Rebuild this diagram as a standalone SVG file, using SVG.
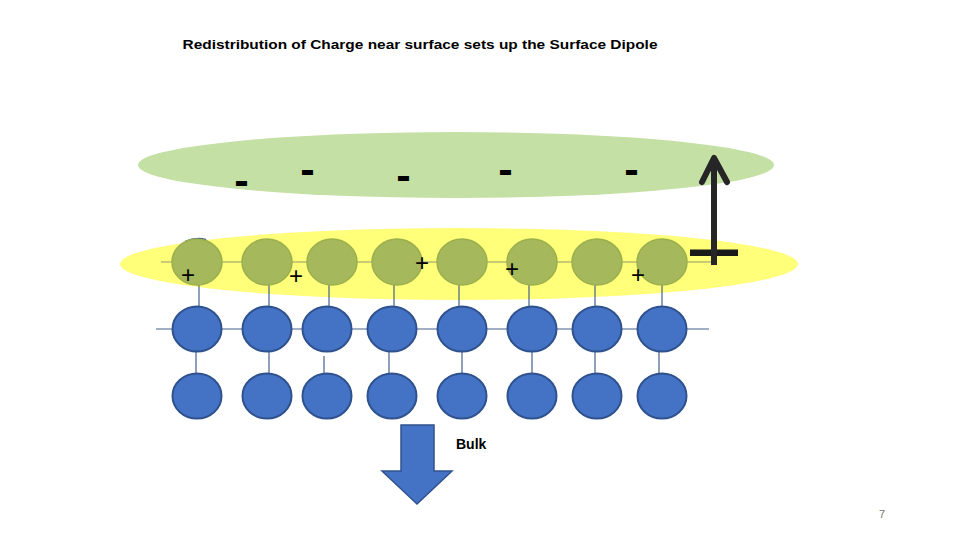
<svg xmlns="http://www.w3.org/2000/svg" width="960" height="540" viewBox="0 0 960 540">
<style>
.olive{fill:#A5B85B;stroke:#9BAF4D;stroke-width:1.5}
.blue{fill:#4472C4;stroke:#2F528F;stroke-width:2}
.ln{stroke:#46608A;stroke-width:1.2;fill:none}
.lno{stroke:#8C9A6C;stroke-width:1.2;fill:none}
.minus{font-family:"DejaVu Sans",sans-serif;font-weight:bold;font-size:36px;fill:#000;text-anchor:middle}
.plus{font-family:"Liberation Sans",Arial,sans-serif;font-size:24px;fill:#000;text-anchor:middle}
</style>
<rect width="960" height="540" fill="#FFFFFF"/>
<text x="182.5" y="49" font-family="Liberation Sans, Arial, sans-serif" font-weight="bold" font-size="13.5" textLength="475" lengthAdjust="spacingAndGlyphs" fill="#000">Redistribution of Charge near surface sets up the Surface Dipole</text>
<g id="negative-layer">
<ellipse cx="456" cy="165" rx="318" ry="33" fill="#C5E0A5"/>
</g>
<g id="positive-layer">
<ellipse cx="459" cy="264" rx="339" ry="36" fill="#FFFF79"/>
</g>
<g id="connectors">
<line class="lno" x1="161" y1="262" x2="712" y2="262"/>
<line class="ln" x1="156" y1="329" x2="709" y2="329"/>
<line class="ln" x1="199" y1="285" x2="199" y2="306"/>
<line class="ln" x1="269" y1="285" x2="269" y2="306"/>
<line class="ln" x1="329" y1="285" x2="329" y2="306"/>
<line class="ln" x1="394" y1="285" x2="394" y2="306"/>
<line class="ln" x1="459" y1="285" x2="459" y2="306"/>
<line class="ln" x1="529" y1="285" x2="529" y2="306"/>
<line class="ln" x1="595" y1="285" x2="595" y2="306"/>
<line class="ln" x1="662" y1="285" x2="662" y2="306"/>
<line class="ln" x1="196" y1="352" x2="196" y2="373"/>
<line class="ln" x1="269" y1="352" x2="269" y2="373"/>
<line class="ln" x1="324" y1="356" x2="324" y2="373"/>
<line class="ln" x1="389" y1="352" x2="389" y2="373"/>
<line class="ln" x1="462" y1="352" x2="462" y2="373"/>
<line class="ln" x1="532" y1="352" x2="532" y2="373"/>
<line class="ln" x1="595" y1="352" x2="595" y2="373"/>
<line class="ln" x1="659" y1="352" x2="659" y2="373"/>
</g>
<g id="surface-atoms">
<path d="M185,242 Q196,237 206,240" fill="none" stroke="#2F528F" stroke-width="2"/>
<ellipse class="olive" cx="197" cy="262" rx="25" ry="23"/>
<ellipse class="olive" cx="267" cy="262" rx="25" ry="23"/>
<ellipse class="olive" cx="332" cy="262" rx="25" ry="23"/>
<ellipse class="olive" cx="397" cy="262" rx="25" ry="23"/>
<ellipse class="olive" cx="462" cy="262" rx="25" ry="23"/>
<ellipse class="olive" cx="532" cy="262" rx="25" ry="23"/>
<ellipse class="olive" cx="597" cy="262" rx="25" ry="23"/>
<ellipse class="olive" cx="662" cy="262" rx="25" ry="23"/>
</g>
<g id="bulk-row-1">
<ellipse class="blue" cx="197" cy="329" rx="24.5" ry="22.5"/>
<ellipse class="blue" cx="267" cy="329" rx="24.5" ry="22.5"/>
<ellipse class="blue" cx="327" cy="329" rx="24.5" ry="22.5"/>
<ellipse class="blue" cx="392" cy="329" rx="24.5" ry="22.5"/>
<ellipse class="blue" cx="462" cy="329" rx="24.5" ry="22.5"/>
<ellipse class="blue" cx="532" cy="329" rx="24.5" ry="22.5"/>
<ellipse class="blue" cx="597" cy="329" rx="24.5" ry="22.5"/>
<ellipse class="blue" cx="662" cy="329" rx="24.5" ry="22.5"/>
</g>
<g id="bulk-row-2">
<ellipse class="blue" cx="197" cy="396" rx="24.5" ry="22.5"/>
<ellipse class="blue" cx="267" cy="396" rx="24.5" ry="22.5"/>
<ellipse class="blue" cx="327" cy="396" rx="24.5" ry="22.5"/>
<ellipse class="blue" cx="392" cy="396" rx="24.5" ry="22.5"/>
<ellipse class="blue" cx="462" cy="396" rx="24.5" ry="22.5"/>
<ellipse class="blue" cx="532" cy="396" rx="24.5" ry="22.5"/>
<ellipse class="blue" cx="597" cy="396" rx="24.5" ry="22.5"/>
<ellipse class="blue" cx="662" cy="396" rx="24.5" ry="22.5"/>
</g>
<g id="minus-charges">
<text class="minus" x="241.5" y="194">-</text>
<text class="minus" x="307.5" y="183">-</text>
<text class="minus" x="403.5" y="189">-</text>
<text class="minus" x="505.5" y="182.5">-</text>
<text class="minus" x="631.5" y="182.5">-</text>
</g>
<g id="plus-charges">
<text class="plus" x="188" y="283">+</text>
<text class="plus" x="296" y="283.5">+</text>
<text class="plus" x="422" y="270.5">+</text>
<text class="plus" x="512" y="276.5">+</text>
<text class="plus" x="638" y="283">+</text>
</g>
<g id="dipole-arrow">
<rect x="690" y="249.5" width="48" height="6.5" fill="#1A1A1A"/>
<line x1="714" y1="265" x2="714" y2="160" stroke="#262626" stroke-width="6"/>
<polyline points="702,182 714,158 727,182" fill="none" stroke="#262626" stroke-width="6" stroke-linejoin="round" stroke-linecap="round"/>
</g>
<g id="bulk-arrow">
<polygon points="401,425 434,425 434,471 452,471 417,504 382,471 401,471" fill="#4472C4" stroke="#2F528F" stroke-width="1.5"/>
<text x="456" y="449" font-family="Liberation Sans, Arial, sans-serif" font-weight="bold" font-size="14" fill="#000">Bulk</text>
</g>
<text x="882" y="518" font-family="Liberation Sans, Arial, sans-serif" font-size="11" fill="#767676" text-anchor="middle">7</text>
</svg>
